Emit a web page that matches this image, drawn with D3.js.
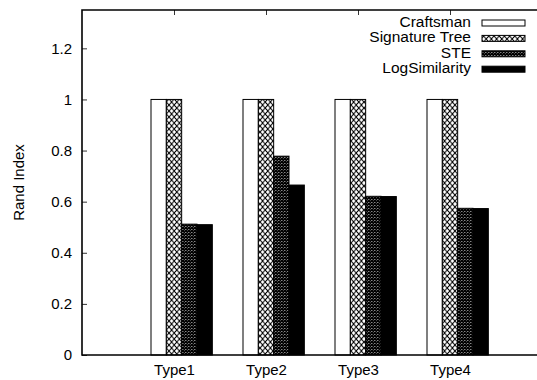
<!DOCTYPE html>
<html lang="en">
<head>
    <meta charset="UTF-8">
    <title>Rand Index</title>
    <script src="https://cdn.jsdelivr.net/npm/d3@7"></script>
    <style>
        body { margin: 0; background: #fff; }
        svg { display: block; font-family: "Liberation Sans", Arial, sans-serif; }
    </style>
</head>
<body>
    <div id="chart"></div>
    <script>
        // data
        const categories = ['Type1', 'Type2', 'Type3', 'Type4']
        const seriesNames = ['Craftsman', 'Signature Tree', 'STE', 'LogSimilarity']
        const craftsman = [1, 1, 1, 1]
        const signatureTree = [1, 1, 1, 1]
        const ste = [0.512, 0.778, 0.621, 0.574]
        const logSimilarity = [0.510, 0.665, 0.620, 0.573]
        const yTicks = [0, 0.2, 0.4, 0.6, 0.8, 1, 1.2]
        const yTickLabels = ['0', '0.2', '0.4', '0.6', '0.8', '1', '1.2']

        const series = [craftsman, signatureTree, ste, logSimilarity]
        const fills = ['#fff', 'url(#crossA)', 'url(#crossB)', '#000']

        let w = 537
        let h = 380
        let padLeft = 82, padTop = 10, plotBottom = 355

        let svg = d3.select('#chart').append('svg')
            .attr('width', w)
            .attr('height', h)

        // patterns for the hatched bars
        let defs = svg.append('defs')
        let pA = defs.append('pattern')
            .attr('id', 'crossA')
            .attr('patternUnits', 'userSpaceOnUse')
            .attr('width', 5.2).attr('height', 6)
        pA.append('rect').attr('width', 5.2).attr('height', 6).attr('fill', '#fff')
        pA.append('path').attr('d', 'M0,0L5.2,6M5.2,0L0,6')
            .attr('stroke', '#000').attr('stroke-width', 1.1)

        let pB = defs.append('pattern')
            .attr('id', 'crossB')
            .attr('patternUnits', 'userSpaceOnUse')
            .attr('width', 3).attr('height', 3)
        pB.append('rect').attr('width', 3).attr('height', 3).attr('fill', '#fff')
        pB.append('path').attr('d', 'M0,0L3,3M3,0L0,3')
            .attr('stroke', '#000').attr('stroke-width', 1.4)

        // x in category units, right border falls outside the picture
        let xScale = d3.scaleLinear().domain([-1, 4]).range([padLeft, padLeft + 460])
        let yScale = d3.scaleLinear().domain([0, 1.35]).range([plotBottom, padTop])
        let barW = 1 / 6

        // bars
        series.forEach((vals, j) => {
            svg.append('g').selectAll('rect')
                .data(vals)
                .enter()
                .append('rect')
                .attr('x', (d, i) => xScale(i - 0.25 + j * barW))
                .attr('y', d => yScale(d))
                .attr('width', xScale(barW) - xScale(0))
                .attr('height', d => yScale(0) - yScale(d))
                .attr('fill', fills[j])
                .attr('stroke', '#000')
                .attr('stroke-width', 1)
        })

        // y axis
        let yAxis = d3.axisLeft(yScale)
            .tickValues(yTicks)
            .tickFormat((d, i) => yTickLabels[i])
            .tickSizeInner(-5)
            .tickSizeOuter(0)
            .tickPadding(10)
        let gy = svg.append('g')
            .attr('transform', `translate(${padLeft},0)`)
            .call(yAxis)
        gy.select('.domain').remove()
        gy.selectAll('text').attr('font-size', 15).attr('fill', '#000')
            .attr('font-family', '"Liberation Sans", Arial, sans-serif')
        gy.selectAll('line').attr('stroke', '#333')

        // x axis
        let xAxis = d3.axisBottom(xScale)
            .tickValues(d3.range(categories.length))
            .tickFormat(i => categories[i])
            .tickSizeInner(0)
            .tickSizeOuter(0)
            .tickPadding(9)
        let gx = svg.append('g')
            .attr('transform', `translate(0,${plotBottom})`)
            .call(xAxis)
        gx.select('.domain').remove()
        gx.selectAll('text').attr('font-size', 15).attr('fill', '#000')
            .attr('font-family', '"Liberation Sans", Arial, sans-serif')

        // mirrored ticks on top
        let xTop = d3.axisTop(xScale)
            .tickValues(d3.range(categories.length))
            .tickFormat('')
            .tickSizeInner(-5)
            .tickSizeOuter(0)
        let gt = svg.append('g')
            .attr('transform', `translate(0,${padTop})`)
            .call(xTop)
        gt.select('.domain').remove()
        gt.selectAll('line').attr('stroke', '#333')

        // frame
        svg.append('path')
            .attr('d', `M${w + 5},${padTop}H${padLeft}V${plotBottom}H${w + 5}`)
            .attr('fill', 'none')
            .attr('stroke', '#000')
            .attr('stroke-width', 1.6)

        // y label
        svg.append('text')
            .attr('transform', `translate(24,${(padTop + plotBottom) / 2}) rotate(-90)`)
            .attr('text-anchor', 'middle')
            .attr('font-size', 15)
            .text('Rand Index')

        // legend
        let legend = svg.append('g')
        seriesNames.forEach((name, j) => {
            let by = 27 + j * 15.4
            legend.append('text')
                .attr('x', 471)
                .attr('y', by)
                .attr('text-anchor', 'end')
                .attr('font-size', 15.5)
                .text(name)
            legend.append('rect')
                .attr('x', 482)
                .attr('y', by - 7)
                .attr('width', 43)
                .attr('height', 6)
                .attr('fill', fills[j])
                .attr('stroke', '#000')
                .attr('stroke-width', 1)
        })
    </script>
</body>
</html>
